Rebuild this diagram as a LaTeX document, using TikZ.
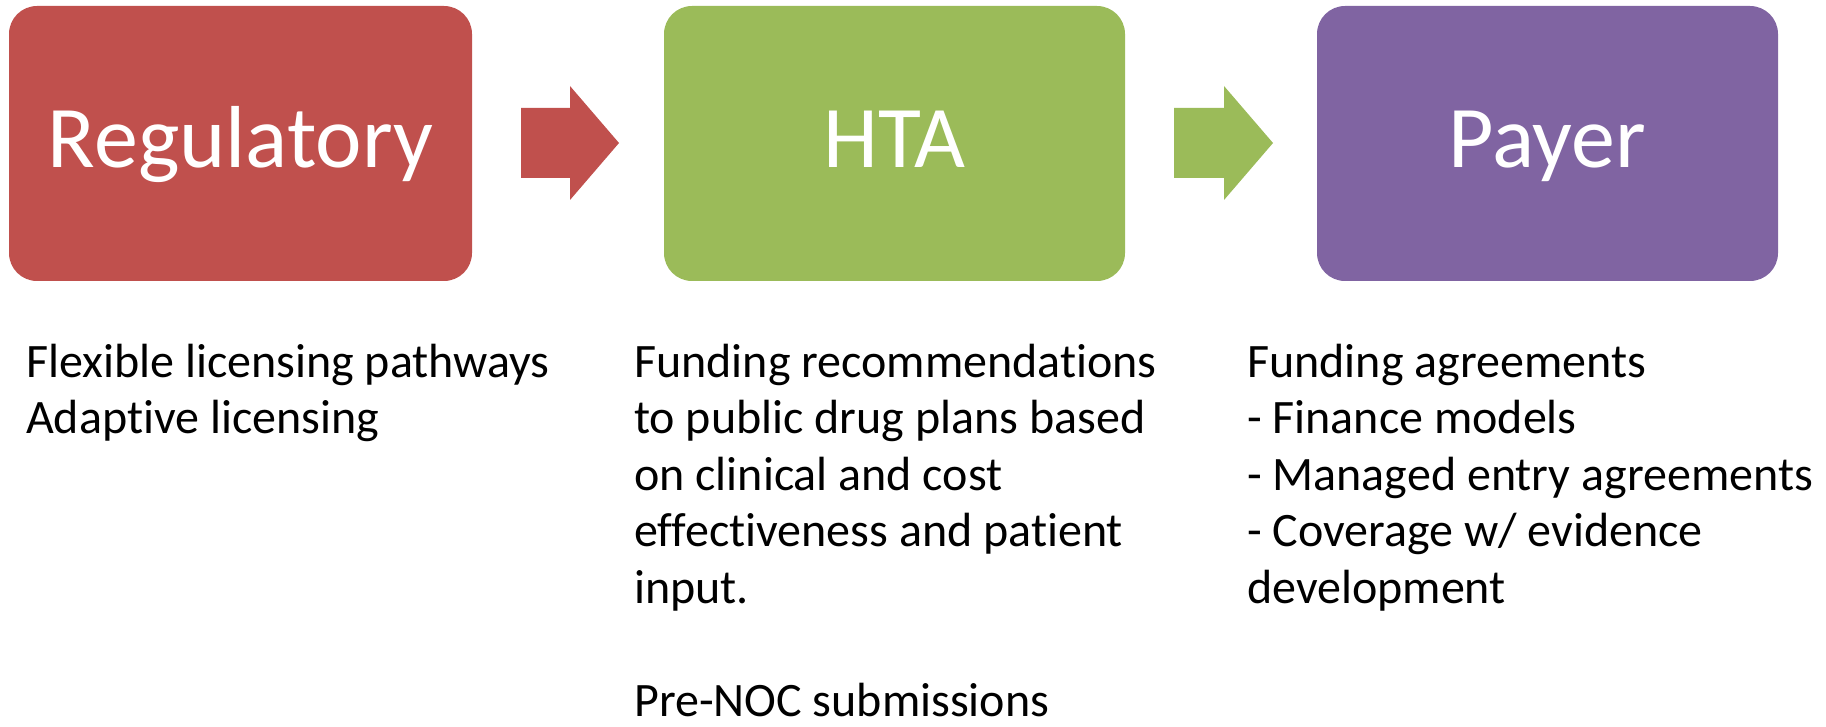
\documentclass[tikz,border=0pt]{standalone}
\usepackage{fontspec}
\setmainfont{Carlito}[Ligatures=NoCommon]
\definecolor{regred}{HTML}{C0504D}
\definecolor{htagreen}{HTML}{9BBB59}
\definecolor{payerpurple}{HTML}{8064A2}
\begin{document}
\begin{tikzpicture}[x=1pt,y=-1pt,
  stagebox/.style={fill=#1, draw=none, rounded corners=28pt},
  stagetitle/.style={text=white, inner sep=0pt, anchor=base,
    font=\fontsize{88}{100}\selectfont},
  flowarrow/.style={fill=#1, draw=none},
  % multi-line notes: the base anchor sits on the last line's baseline
  notes/.style={inner sep=0pt, anchor=base west, align=left,
    font=\fontsize{48}{56.5}\selectfont}]
\useasboundingbox (0,0) rectangle (1826,727);

% stage boxes
\fill[stagebox=regred]      (9,6)    rectangle (472,281);
\fill[stagebox=htagreen]    (664,6)  rectangle (1125,281);
\fill[stagebox=payerpurple] (1317,6) rectangle (1778,281);

\node[stagetitle] (reg)   at (240.5,168) {Regulatory};
\node[stagetitle] (hta)   at (894.5,168) {HTA};
\node[stagetitle] (payer) at (1547.5,168) {Payer};

% block arrows between the stages
\fill[flowarrow=regred] (521,108) -- (570,108) -- (570,86) -- (619,143)
  -- (570,200) -- (570,178) -- (521,178) -- cycle;
\fill[flowarrow=htagreen] (1174,108) -- (1224,108) -- (1224,86) -- (1273,143)
  -- (1224,200) -- (1224,178) -- (1174,178) -- cycle;

% notes under each stage (first baseline at y = 377)
\node[notes] (regnotes) at (26,433.5)
  {Flexible licensing pathways\\Adaptive licensing};
\node[notes] (htanotes) at (634,716)
  {Funding recommendations\\to public drug plans based\\on clinical and cost\\effectiveness and patient\\input.\\[56.5pt]Pre-NOC submissions};
\node[notes] (payernotes) at (1247,603)
  {Funding agreements\\- Finance models\\- Managed entry agreements\\- Coverage w/ evidence\\development};
\end{tikzpicture}
\end{document}
